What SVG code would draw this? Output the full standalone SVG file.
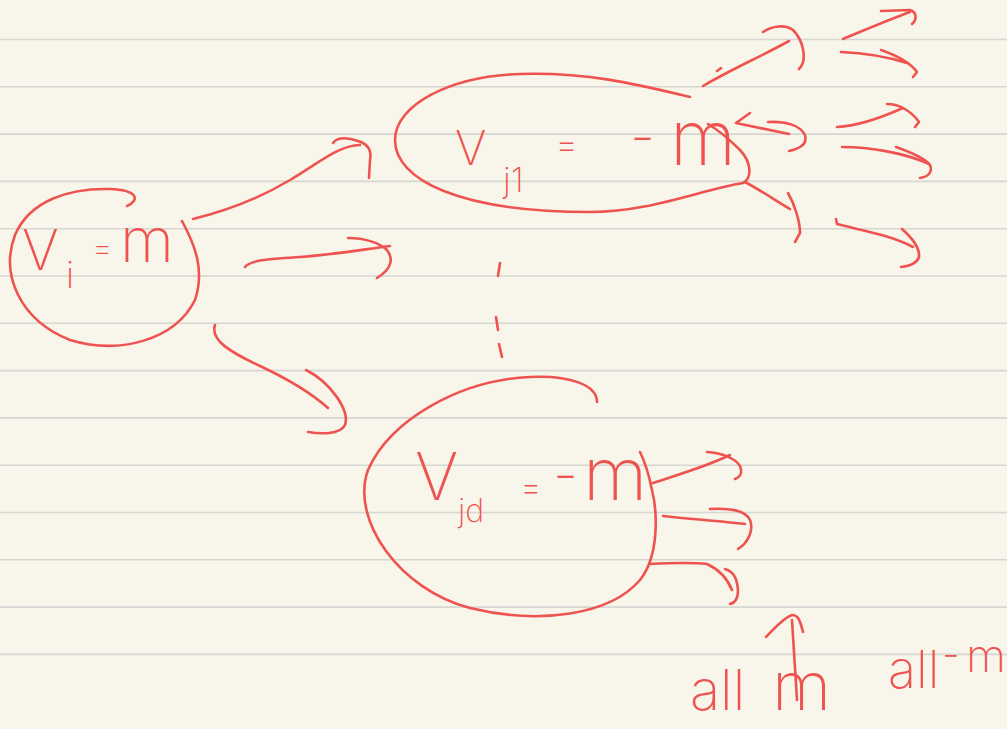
<svg xmlns="http://www.w3.org/2000/svg" width="1007" height="729" viewBox="0 0 1007 729">
<style>
.ln{stroke:#d6d6d2;stroke-width:1.6}
.ink{fill:none;stroke:#EF5350;stroke-width:2.6;stroke-linecap:round;stroke-linejoin:round}
.t{fill:#EF5350;font-family:Inter,Lato,"DejaVu Sans",sans-serif;font-weight:200}
</style>
<rect width="1007" height="729" fill="#F8F6EA"/>
<g id="paper-lines">
<line class="ln" x1="0" y1="39.5" x2="1007" y2="39.5"/>
<line class="ln" x1="0" y1="86.8" x2="1007" y2="86.8"/>
<line class="ln" x1="0" y1="134.1" x2="1007" y2="134.1"/>
<line class="ln" x1="0" y1="181.4" x2="1007" y2="181.4"/>
<line class="ln" x1="0" y1="228.7" x2="1007" y2="228.7"/>
<line class="ln" x1="0" y1="276" x2="1007" y2="276"/>
<line class="ln" x1="0" y1="323.3" x2="1007" y2="323.3"/>
<line class="ln" x1="0" y1="370.6" x2="1007" y2="370.6"/>
<line class="ln" x1="0" y1="417.9" x2="1007" y2="417.9"/>
<line class="ln" x1="0" y1="465.2" x2="1007" y2="465.2"/>
<line class="ln" x1="0" y1="512.5" x2="1007" y2="512.5"/>
<line class="ln" x1="0" y1="559.8" x2="1007" y2="559.8"/>
<line class="ln" x1="0" y1="607.1" x2="1007" y2="607.1"/>
<line class="ln" x1="0" y1="654.4" x2="1007" y2="654.4"/>
</g>
<g id="node-vi">
<path class="ink" d="M127,206 C140,200 138,190 110,189 C70,188 30,200 15,235 C0,275 20,320 70,340 C120,355 175,340 195,300 C205,270 195,245 182,221"/>
<text class="t" x="22" y="270" font-size="56">V</text>
<text class="t" x="66" y="288" font-size="36">i</text>
<text class="t" x="92" y="259" font-size="32">=</text>
<text class="t" x="120" y="262" font-size="62">m</text>
</g>
<g id="node-vj1">
<path class="ink" d="M690,97 C640,85 590,72 520,74 C450,76 395,105 395,140 C395,180 460,212 590,212 C650,212 700,190 743,183 C752,178 752,163 740,150 C730,140 718,130 708,124"/>
<text class="t" x="455" y="165" font-size="48">V</text>
<text class="t" x="503" y="192" font-size="34">j1</text>
<text class="t" x="555" y="157" font-size="36">=</text>
<text class="t" x="630" y="156" font-size="56">-</text>
<text class="t" x="670" y="165" font-size="76">m</text>
</g>
<g id="node-vjd">
<path class="ink" d="M597,402 C597,385 570,375 530,377 C460,380 390,420 368,470 C350,520 400,590 470,608 C540,625 610,615 640,580 C660,555 657,510 652,490 C648,470 643,458 640,452"/>
<text class="t" x="415" y="500" font-size="66">V</text>
<text class="t" x="458" y="522" font-size="32">jd</text>
<text class="t" x="520" y="499" font-size="34">=</text>
<text class="t" x="553" y="494" font-size="56">-</text>
<text class="t" x="583" y="500" font-size="74">m</text>
</g>
<g id="connectors">
<path class="ink" d="M193,219 C230,210 260,198 290,180 C320,162 340,145 360,145"/>
<path class="ink" d="M333,143 C338,136 350,138 358,141 C368,144 372,150 370,160 L369,178"/>
<path class="ink" d="M245,267 C250,260 270,259 300,257 C330,255 360,250 390,246"/>
<path class="ink" d="M348,238 C365,238 380,243 387,250 C393,258 393,268 377,278"/>
<path class="ink" d="M215,325 C210,340 230,352 260,366 C290,380 310,392 328,408"/>
<path class="ink" d="M306,370 C330,382 350,410 345,425 C340,435 320,434 308,432"/>
<path class="ink" d="M500,263 L498,276 M496,317 L498,330 M499,344 L502,357"/>
<path class="ink" d="M703,86 C730,70 760,57 789,41 M717,71 L721,68"/>
<path class="ink" d="M763,32 C772,26 785,24 793,30 C803,40 808,60 799,69"/>
<path class="ink" d="M843,39 C865,30 888,20 910,12"/>
<path class="ink" d="M881,11 L910,10 C917,12 917,20 912,24"/>
<path class="ink" d="M841,52 C865,53 888,57 907,63"/>
<path class="ink" d="M881,50 C895,55 910,62 917,72 L913,77"/>
<path class="ink" d="M750,113 L736,123 L789,134"/>
<path class="ink" d="M768,122 C785,121 800,125 805,135 C808,145 798,149 789,151"/>
<path class="ink" d="M837,127 C860,126 885,116 903,108"/>
<path class="ink" d="M887,104 C900,104 912,112 919,122 L915,127"/>
<path class="ink" d="M842,147 C870,147 905,153 929,164"/>
<path class="ink" d="M896,147 C910,152 925,158 930,165 C933,172 928,177 920,178"/>
<path class="ink" d="M745,182 C760,190 775,200 790,209"/>
<path class="ink" d="M788,193 C795,205 800,222 800,233 L795,242"/>
<path class="ink" d="M836,219 L837,224 C860,230 890,235 913,247"/>
<path class="ink" d="M902,229 C912,238 920,247 919,257 C917,263 910,266 901,267"/>
<path class="ink" d="M653,483 C680,474 705,467 730,455"/>
<path class="ink" d="M707,452 C722,453 735,458 740,466 C743,474 740,477 735,479"/>
<path class="ink" d="M663,516 C690,519 720,521 745,524"/>
<path class="ink" d="M710,509 C730,508 745,510 750,520 C754,530 748,543 738,549"/>
<path class="ink" d="M649,564 C668,563 690,562 707,564 C720,570 728,580 732,590"/>
<path class="ink" d="M725,569 C735,572 737,580 738,590 C738,598 735,603 730,604"/>
<path class="ink" d="M797,700 L792,620"/>
<path class="ink" d="M766,637 C775,628 783,618 792,615 C798,615 800,620 803,632"/>
</g>
<g id="label-all-m">
<text class="t" x="690" y="710" font-size="56">all</text>
<text class="t" x="772" y="710" font-size="68">m</text>
</g>
<g id="label-all-neg-m">
<text class="t" x="888" y="688" font-size="52">all</text>
<text class="t" x="942" y="668" font-size="40">-</text>
<text class="t" x="966" y="672" font-size="46">m</text>
</g>
</svg>
